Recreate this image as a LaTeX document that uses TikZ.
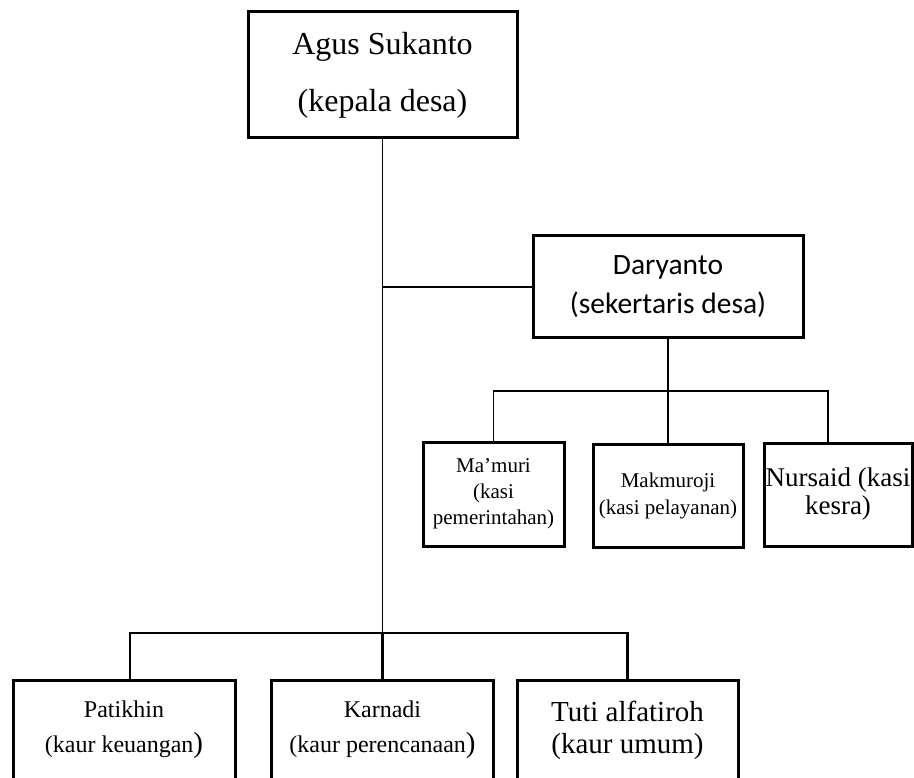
\documentclass[tikz,border=0pt]{standalone}
\usepackage{fontspec}
\setmainfont{Liberation Serif}
\newfontfamily\calibri{Carlito}
\usepackage{tikz}

\begin{document}
\begin{tikzpicture}[x=1pt, y=-1pt,
    box/.style={draw, line width=3pt, align=center, inner sep=0pt},
    link/.style={line width=1.3pt},
    bus/.style={line width=2.5pt}]
    \useasboundingbox (0,0) rectangle (914,778);
    % Kepala desa
    \node[box, minimum width=269pt, minimum height=126pt, font=\rmfamily\fontsize{32}{57}\selectfont] (agus) at (382.5,75) {Agus Sukanto\\(kepala desa)};
    % Sekertaris desa
    \node[box, minimum width=270pt, minimum height=102pt, font=\calibri\fontsize{29.5}{39}\selectfont] (daryanto) at (668,287) {Daryanto\\(sekertaris desa)};
    % Kasi
    \node[box, minimum width=141pt, minimum height=104pt, font=\rmfamily\fontsize{21}{26}\selectfont] (mamuri) at (493.5,494) {Ma’muri\\(kasi\\pemerintahan)};
    \node[box, minimum width=150pt, minimum height=103pt, font=\rmfamily\fontsize{21}{27}\selectfont] (makmuroji) at (668,495.5) {Makmuroji\\(kasi pelayanan)};
    \node[box, minimum width=148pt, minimum height=103pt, font=\rmfamily\fontsize{27}{28}\selectfont] (nursaid) at (838,494.5) {Nursaid (kasi\\kesra)};
    % Kaur
    \node[box, minimum width=222pt, minimum height=100pt, font=\rmfamily\fontsize{24}{35}\selectfont] (patikhin) at (124,730) {Patikhin\\(kaur keuangan{\fontsize{29}{35}\selectfont)}};
    \node[box, minimum width=222pt, minimum height=100pt, font=\rmfamily\fontsize{24}{35}\selectfont] (karnadi) at (382.5,730) {Karnadi\\(kaur perencanaan{\fontsize{29}{35}\selectfont)}};
    \node[box, minimum width=221pt, minimum height=100pt, font=\rmfamily\fontsize{29}{32}\selectfont] (tuti) at (627.5,730) {Tuti alfatiroh\\(kaur umum)};
    % Garis
    \coordinate (kasibus) at (668,391);
    \coordinate (kaurbus) at (382.5,633);
    \draw[link] (agus.south) -- (kaurbus);
    \draw[link] (agus.south |- daryanto.west) -- (daryanto.west);
    \draw[link] (daryanto.south) -- (makmuroji.north);
    \draw[link] (mamuri.north) |- (kasibus) -| ([xshift=-10pt]nursaid.north);
    \draw[bus] ([xshift=6pt]patikhin.north) |- (kaurbus) -| (tuti.north);
    \draw[bus] (kaurbus) -- (karnadi.north);
\end{tikzpicture}
\end{document}
